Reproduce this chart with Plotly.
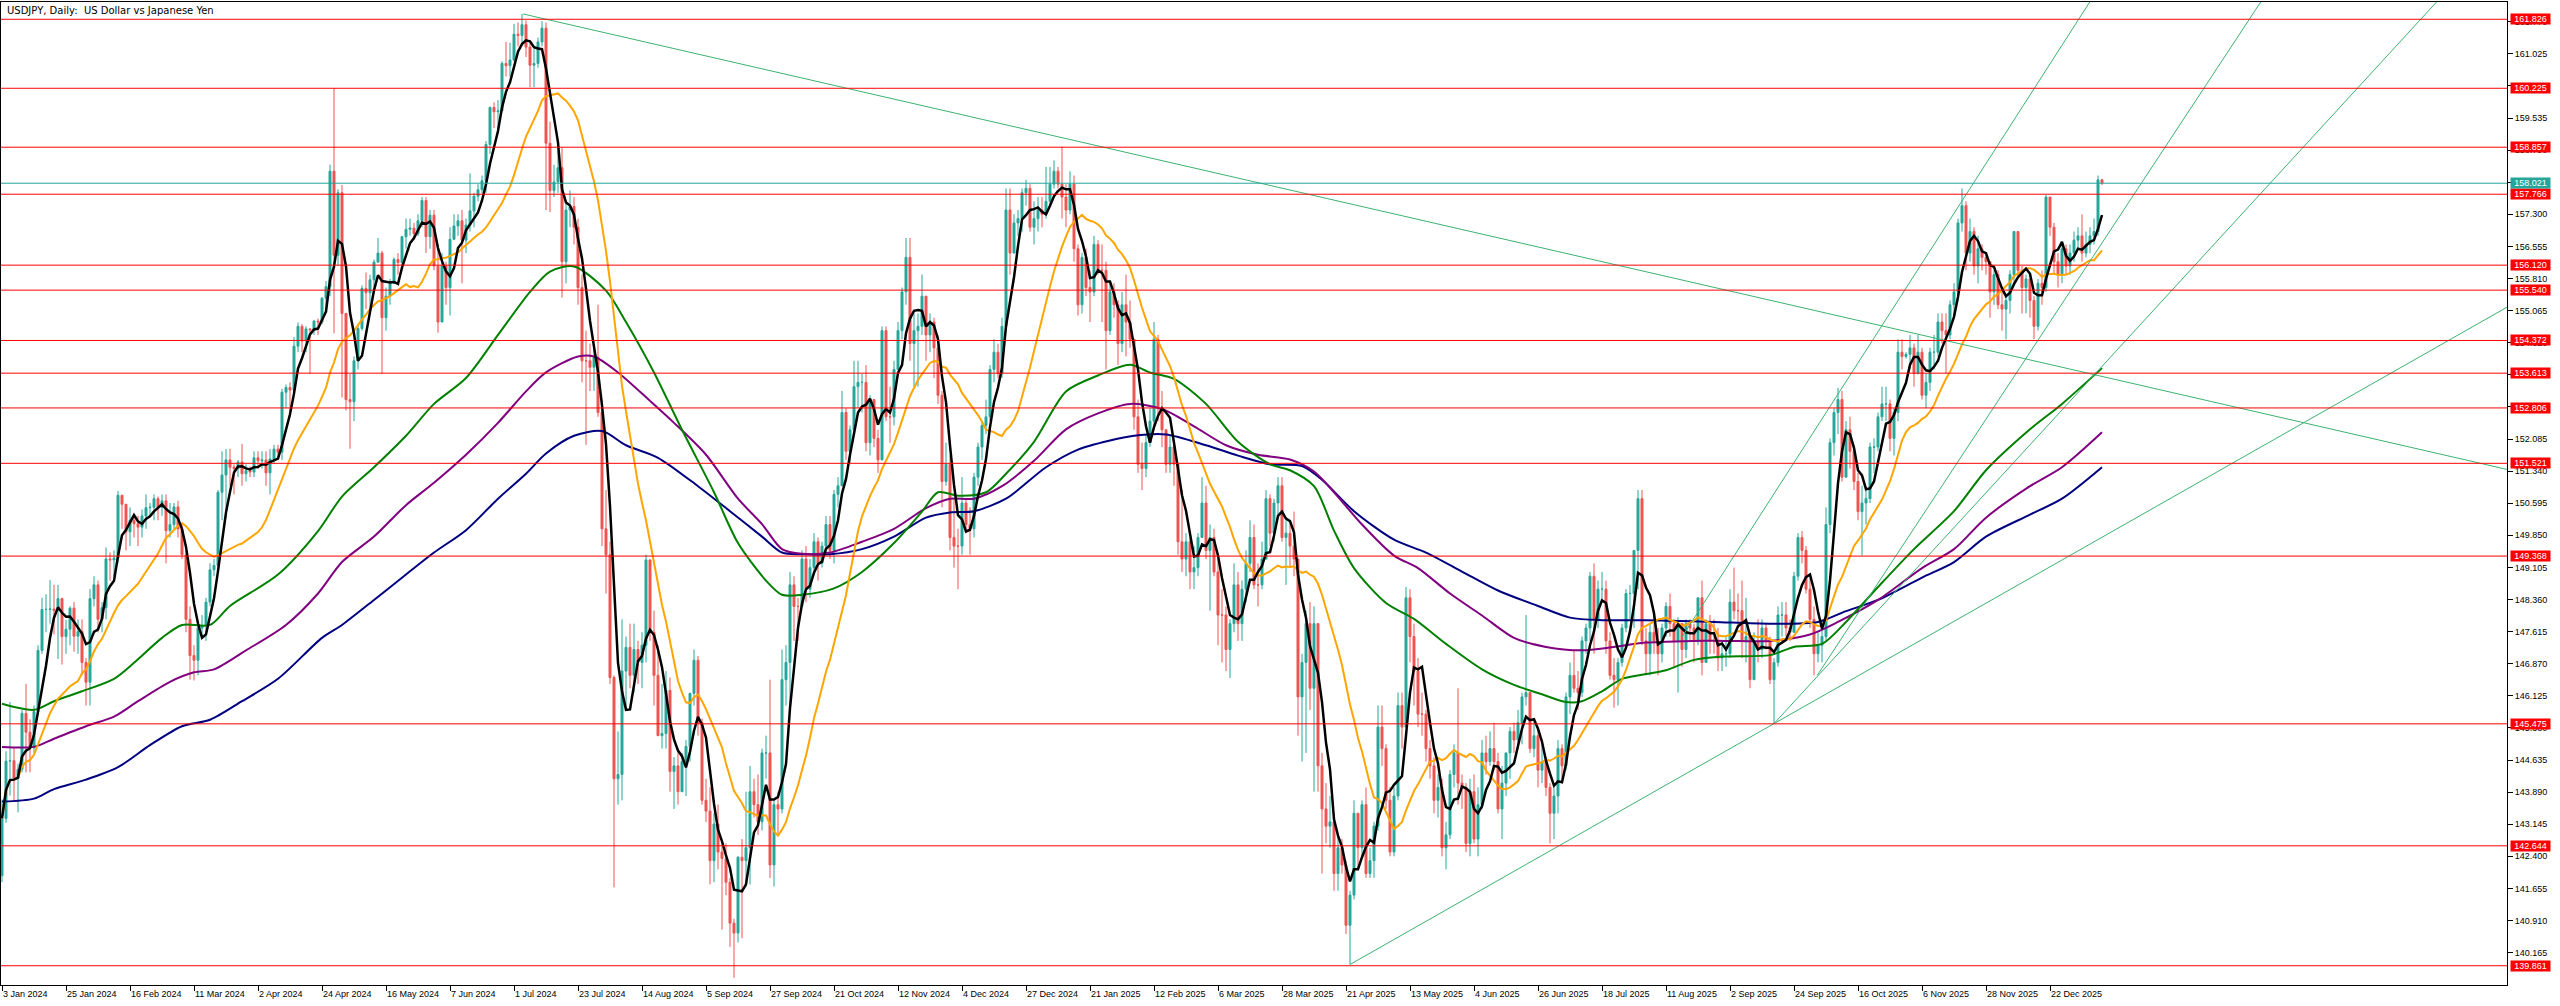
import numpy as np
import pandas as pd
import plotly.graph_objects as go

# ---------------- DATA ----------------
title_text = "USDJPY, Daily:  US Dollar vs Japanese Yen"

tick_labels = ["3 Jan 2024", "25 Jan 2024", "16 Feb 2024", "11 Mar 2024", "2 Apr 2024", "24 Apr 2024",
               "16 May 2024", "7 Jun 2024", "1 Jul 2024", "23 Jul 2024", "14 Aug 2024", "5 Sep 2024",
               "27 Sep 2024", "21 Oct 2024", "12 Nov 2024", "4 Dec 2024", "27 Dec 2024", "21 Jan 2025",
               "12 Feb 2025", "6 Mar 2025", "28 Mar 2025", "21 Apr 2025", "13 May 2025", "4 Jun 2025",
               "26 Jun 2025", "18 Jul 2025", "11 Aug 2025", "2 Sep 2025", "24 Sep 2025", "16 Oct 2025",
               "6 Nov 2025", "28 Nov 2025", "22 Dec 2025"]
bars_per_label = 16

first_open = 141.95

closes_2024 = [
    143.28, 144.61, 144.62,
    144.21, 144.42, 145.72, 145.28, 144.92,
    145.76, 147.18, 148.13, 148.13, 148.14,
    148.11, 148.38, 147.50, 147.67, 148.16,
    147.51, 147.62, 146.90, 146.44, 148.38,
    148.70, 147.90, 148.17, 149.30, 149.28,
    149.32, 150.78, 150.57, 149.93, 150.20,
    150.12, 150.04, 150.30, 150.49, 150.50,
    150.70, 150.50, 150.65, 149.96, 150.10,
    150.51, 150.00, 149.40, 147.90, 147.06,
    146.95, 147.70, 147.75, 148.30, 149.05,
    149.15, 150.85, 151.25, 151.60, 151.43,
    151.40, 151.55, 151.28, 151.35, 151.32,
    151.65, 151.58, 151.60, 151.30, 151.62,
    151.85, 151.78, 153.17, 153.28, 153.22,
    154.24, 154.70, 154.36, 154.64, 154.62,
    154.82, 154.80, 155.35, 155.62, 158.30,
    156.35, 157.80, 155.00, 153.00, 152.95,
    153.90, 154.65, 155.58, 155.48, 155.78,
    156.19, 156.40, 154.90, 155.40, 155.70,
    156.25, 156.18, 156.78, 156.95, 156.98,
    156.85, 157.15, 157.62, 156.78, 157.28,
    156.10, 154.80, 156.10, 155.60, 156.72,
    157.03, 157.15, 156.70, 157.05, 157.38,
    157.72, 157.87, 158.08, 158.92, 159.78,
    159.68, 159.70, 160.80, 160.75, 160.88,
    161.48, 161.45, 161.70, 161.18, 160.76,
    160.80, 161.30, 161.62, 158.95, 157.85,
    158.05, 158.38, 156.20, 157.40, 157.48,
    157.00, 155.60, 153.90, 153.90, 153.75,
    153.98, 152.70, 150.00, 149.40, 146.55,
    144.20, 144.30, 146.70, 147.25, 146.60,
    147.20, 146.90, 147.30, 149.28, 147.60,
    146.60, 145.20, 145.25, 146.25, 144.37,
    144.50, 143.90, 144.60, 144.95, 146.18,
    146.95, 145.50, 143.70, 143.45, 142.30,
    143.15, 142.50, 142.35, 141.80, 140.85,
    140.62, 142.38, 142.30, 142.60, 143.90,
    143.60, 143.20, 144.80, 144.80, 142.20,
    143.60, 143.50, 146.50, 146.90, 148.70,
    148.20, 148.20, 149.30, 148.60, 149.10,
    149.70, 149.20, 149.60, 150.10, 149.50,
    150.80, 151.00, 152.70, 151.80, 152.30,
    153.30, 153.40, 153.40, 152.00, 153.00,
    152.10, 151.60, 154.60, 152.60, 152.60,
    153.70, 154.60, 155.50, 156.30, 154.30,
    154.60, 154.70, 155.40, 154.50, 154.80,
    154.20, 153.10, 151.10, 151.50, 149.80,
    149.60, 149.60, 150.60, 150.10, 150.00,
    151.20, 151.90, 152.40, 152.60, 153.70,
    154.10, 153.60, 154.70, 157.40, 156.40,
    157.10, 157.20, 157.80, 157.90,
    157.00, 157.20]

highs_2024 = [
    143.72, 144.84, 145.98,
    144.91, 144.55, 145.80, 146.40, 145.58,
    145.90, 147.30, 148.40, 148.48, 148.81,
    148.70, 148.70, 148.40, 147.89, 148.20,
    148.30, 147.90, 147.90, 147.00, 148.60,
    148.90, 148.80, 148.30, 149.57, 149.45,
    149.50, 150.88, 150.70, 150.55, 150.50,
    150.30, 150.30, 150.45, 150.80, 150.60,
    150.80, 150.75, 150.80, 150.80, 150.60,
    150.60, 150.65, 150.10, 149.50, 148.20,
    147.30, 147.80, 148.00, 148.40, 149.20,
    149.30, 150.90, 151.80, 151.85, 151.86,
    151.50, 151.60, 151.97, 151.50, 151.45,
    151.80, 151.80, 151.80, 151.80, 151.85,
    151.95, 151.95, 153.25, 153.35, 153.40,
    154.45, 154.79, 154.75, 154.70, 154.65,
    154.85, 154.88, 155.38, 155.75, 158.45,
    160.22, 157.88, 157.98, 155.00, 153.60,
    154.00, 154.75, 155.65, 155.95, 155.90,
    156.25, 156.75, 156.45, 155.60, 155.80,
    156.30, 156.40, 156.80, 157.20, 157.20,
    157.10, 157.30, 157.70, 157.70, 157.40,
    157.40, 156.50, 156.40, 156.20, 157.00,
    157.30, 157.30, 157.40, 157.20, 158.25,
    157.80, 158.00, 158.20, 159.00, 159.80,
    159.90, 159.95, 160.85, 161.30, 161.28,
    161.72, 161.75, 161.95, 161.80, 161.30,
    161.15, 161.40, 161.78, 161.75, 159.45,
    158.45, 158.85, 158.85, 157.60, 157.85,
    157.70, 157.20, 155.90, 154.60, 154.30,
    154.20, 155.20, 153.00, 150.90, 149.70,
    146.60, 145.30, 147.90, 147.50, 147.80,
    147.80, 147.40, 147.60, 149.40, 149.20,
    148.10, 147.30, 146.40, 146.70, 146.55,
    144.70, 144.90, 144.80, 145.10, 146.20,
    147.20, 147.05, 145.60, 144.20, 144.00,
    143.40, 143.60, 142.80, 142.70, 141.90,
    140.95, 142.40, 142.80, 143.90, 144.50,
    144.20, 144.30, 144.90, 145.20, 146.50,
    143.70, 143.90, 147.20, 147.30, 149.00,
    148.90, 148.40, 149.50, 149.60, 149.30,
    149.90, 149.80, 149.70, 150.30, 150.30,
    150.90, 151.20, 153.20, 152.80, 152.40,
    153.90, 153.90, 153.60, 153.80, 153.10,
    152.70, 152.30, 154.70, 154.70, 153.30,
    153.90, 154.80, 155.60, 156.75, 156.75,
    155.00, 155.00, 155.90, 155.40, 155.00,
    154.90, 154.50, 153.20, 152.00, 151.70,
    150.70, 150.00, 151.20, 150.70, 150.50,
    151.30, 152.00, 152.50, 153.00, 153.80,
    154.40, 154.30, 154.90, 157.90, 157.90,
    157.30, 157.40, 157.90, 158.10,
    158.00, 157.60]

lows_2024 = [
    141.80, 143.18, 143.81,
    143.67, 143.42, 144.35, 144.35, 144.35,
    144.80, 145.70, 147.10, 147.60, 147.80,
    147.55, 146.98, 146.85, 147.10, 147.30,
    147.15, 147.10, 146.60, 145.90, 145.90,
    148.20, 147.60, 147.60, 147.90, 148.80,
    148.90, 149.20, 150.00, 149.50, 149.60,
    149.80, 149.60, 149.80, 150.00, 150.30,
    150.20, 150.20, 150.30, 149.20, 149.80,
    150.00, 149.80, 149.30, 147.60, 146.50,
    146.48, 146.60, 147.50, 147.40, 148.20,
    148.90, 149.10, 150.20, 150.25, 151.00,
    150.80, 151.20, 151.00, 151.10, 151.20,
    151.20, 151.40, 151.40, 151.00, 150.80,
    151.50, 151.60, 151.60, 152.80, 152.60,
    153.10, 154.10, 154.10, 154.10, 153.60,
    154.50, 154.50, 154.75, 155.10, 155.40,
    154.54, 156.10, 153.05, 152.75, 151.86,
    152.50, 153.70, 154.60, 155.10, 155.10,
    155.60, 156.20, 153.60, 154.60, 155.20,
    155.70, 155.90, 156.10, 156.50, 156.80,
    156.70, 156.80, 157.00, 156.40, 156.50,
    156.00, 154.55, 154.80, 155.20, 154.95,
    156.70, 156.80, 155.70, 156.40, 156.90,
    157.00, 157.60, 157.80, 157.80, 158.70,
    159.30, 159.30, 159.70, 160.50, 160.50,
    160.85, 161.20, 161.20, 160.95, 160.25,
    160.25, 160.70, 161.20, 157.40, 157.35,
    157.70, 157.80, 155.37, 155.70, 157.00,
    156.60, 155.20, 153.40, 151.95, 153.20,
    153.20, 152.60, 149.60, 148.50, 146.40,
    141.68, 143.60, 143.70, 145.80, 146.30,
    146.20, 146.40, 146.30, 146.90, 147.40,
    145.90, 145.20, 144.90, 144.90, 143.90,
    143.50, 143.60, 143.90, 143.80, 144.60,
    145.90, 145.20, 143.60, 143.20, 141.75,
    141.80, 142.10, 140.70, 141.50, 140.30,
    139.58, 140.40, 140.50, 141.70, 141.75,
    143.30, 142.90, 143.00, 144.20, 141.90,
    141.70, 142.90, 143.40, 145.90, 145.90,
    147.40, 147.40, 148.20, 148.30, 148.40,
    149.00, 148.80, 149.10, 149.40, 149.30,
    149.20, 150.50, 151.00, 151.60, 151.50,
    152.40, 152.80, 152.70, 151.80, 151.70,
    151.90, 151.30, 151.60, 152.50, 152.00,
    152.40, 153.70, 154.40, 155.20, 153.90,
    153.30, 153.30, 154.50, 153.90, 154.10,
    153.50, 152.90, 150.50, 151.00, 149.50,
    149.10, 148.60, 149.40, 149.90, 149.40,
    149.80, 151.00, 151.60, 152.20, 152.50,
    153.40, 153.50, 153.50, 154.70, 155.90,
    156.40, 156.80, 156.90, 157.50,
    156.90, 156.60]

closes_2025 = [
    157.40, 157.30,
    157.60, 158.00, 158.30, 158.00, 157.70,
    157.40, 158.00, 156.50, 155.20, 156.30,
    155.60, 155.50, 156.60, 156.00, 156.00,
    154.60, 155.50, 155.20, 154.30, 155.20,
    154.80, 154.40, 152.60, 151.50, 151.40,
    152.00, 152.50, 154.40, 152.80, 152.30,
    151.50, 151.90, 151.50, 149.70, 149.30,
    149.70, 149.00, 149.10, 149.80, 150.60,
    149.50, 149.80, 149.00, 148.00, 148.00,
    147.20, 147.80, 148.70, 147.80, 148.60,
    149.20, 149.80, 148.70, 148.70, 149.30,
    150.70, 149.90, 150.60, 151.00, 149.80,
    149.90, 149.60, 149.30, 146.10, 146.90,
    147.80, 146.30, 147.80, 144.50, 143.50,
    143.10, 143.20, 142.00, 142.60, 142.20,
    140.80, 141.50, 143.40, 142.60, 143.60,
    142.00, 142.30, 143.10, 145.40, 144.90,
    143.70, 142.50, 143.80, 145.90, 145.40,
    148.40, 147.50, 146.70, 145.70, 145.70,
    144.90, 144.50, 143.70, 144.00, 142.60,
    142.90, 144.30, 144.80, 144.10, 144.00,
    142.70, 143.90, 142.80, 143.60, 144.80,
    144.60, 144.90, 144.60, 143.50, 144.10,
    144.80, 145.30, 145.10, 145.50, 146.10,
    146.20, 144.90, 145.20, 144.40, 144.60,
    144.00, 143.40, 143.80, 144.90, 144.50,
    146.10, 146.60, 146.30, 146.20, 147.40,
    147.70, 148.90, 147.90, 148.60, 148.60,
    147.40, 146.60, 146.50, 146.90, 147.70,
    148.50, 148.50, 149.50, 150.70, 147.40,
    147.10, 147.60, 147.40, 147.10, 147.70,
    148.20, 147.80, 147.40, 147.80, 147.20,
    147.80, 147.70, 147.40, 148.40, 146.90,
    147.80, 147.40, 147.40, 147.00, 147.10,
    147.10, 148.30, 148.10, 148.10, 147.40,
    147.50, 146.50, 147.40, 147.20, 147.70,
    147.40, 146.50, 146.90, 148.00, 148.00,
    147.70, 147.60, 148.90, 149.80, 149.50,
    148.60, 147.90, 147.10, 147.30, 147.50,
    150.10, 152.00, 152.70, 153.00, 151.20,
    152.30, 151.80, 151.10, 150.40, 150.60,
    150.70, 151.90, 151.90, 152.60, 152.90,
    152.90, 152.10, 152.70, 154.10, 154.00, 154.05,
    154.20, 153.60, 154.10, 153.10, 153.40,
    154.10, 154.10, 154.80, 154.60, 154.50,
    155.20, 155.50, 157.10, 157.50, 156.40,
    156.90, 156.10, 156.50, 156.30, 156.20,
    155.50, 155.90, 155.20, 155.10, 155.30,
    155.90, 156.90, 156.00, 155.60, 155.80,
    155.30, 154.70, 155.70, 155.60, 157.70,
    157.00, 156.20, 155.90, 156.50,
    156.10, 156.40, 156.70, 156.80,
    156.40, 156.60, 156.80, 156.90, 158.10,
    158.02]

highs_2025 = [
    157.70, 157.70,
    158.40, 158.40, 158.55, 158.40, 158.87,
    158.00, 158.30, 158.20, 156.60, 156.40,
    156.50, 156.00, 156.80, 156.70, 156.60,
    156.20, 155.70, 155.70, 155.30, 155.50,
    155.90, 155.30, 154.40, 153.00, 152.00,
    152.20, 152.80, 154.80, 154.50, 153.20,
    152.00, 152.20, 152.00, 151.50, 150.90,
    149.90, 149.80, 149.60, 149.90, 151.20,
    151.00, 150.10, 150.00, 149.30, 148.60,
    148.20, 147.90, 149.20, 149.00, 148.80,
    149.50, 150.20, 150.10, 149.20, 149.70,
    150.90, 150.80, 150.70, 151.20, 151.20,
    150.20, 150.20, 150.40, 149.30, 147.10,
    148.10, 148.30, 148.20, 147.80, 144.80,
    144.10, 143.80, 143.40, 142.90, 142.80,
    142.30, 141.60, 143.70, 143.40, 143.70,
    144.00, 142.60, 143.20, 145.90, 145.90,
    145.00, 144.00, 144.00, 146.20, 146.20,
    148.65, 148.60, 147.80, 147.00, 146.20,
    145.80, 145.10, 144.70, 144.30, 144.20,
    143.20, 144.40, 145.00, 146.30, 144.30,
    144.10, 144.20, 144.30, 144.00, 145.10,
    145.20, 145.30, 145.50, 144.80, 144.50,
    144.80, 145.40, 145.50, 145.80, 146.20,
    148.00, 146.20, 145.60, 145.40, 145.00,
    144.70, 144.10, 144.00, 145.10, 145.00,
    146.20, 146.90, 147.20, 146.70, 147.50,
    147.80, 149.00, 149.20, 148.80, 149.00,
    148.80, 147.60, 147.00, 147.00, 147.80,
    148.60, 148.70, 149.50, 150.90, 150.90,
    147.70, 147.80, 148.10, 147.70, 147.80,
    148.30, 148.50, 147.90, 147.95, 147.80,
    147.90, 147.90, 147.80, 148.40, 148.80,
    147.90, 148.00, 147.90, 147.70, 147.40,
    147.50, 148.60, 149.10, 148.50, 148.80,
    148.40, 147.60, 147.60, 147.90, 147.90,
    147.80, 147.50, 147.00, 148.20, 148.30,
    148.30, 147.90, 149.00, 149.90, 149.95,
    149.60, 148.90, 148.20, 147.60, 147.90,
    150.50, 152.10, 152.80, 153.27, 153.20,
    152.50, 152.60, 151.90, 151.30, 151.00,
    150.90, 152.00, 152.10, 152.70, 153.30,
    153.30, 153.00, 152.80, 154.40, 154.40, 154.10,
    154.50, 154.30, 154.50, 154.20, 153.60,
    154.20, 154.50, 155.00, 155.00, 155.00,
    155.30, 155.70, 157.20, 157.90, 157.60,
    157.20, 157.00, 156.80, 156.60, 156.40,
    156.20, 156.00, 156.00, 155.50, 155.40,
    156.00, 156.90, 156.90, 156.10, 155.90,
    155.90, 155.40, 155.80, 156.00, 157.75,
    157.70, 157.10, 156.40, 156.60,
    156.60, 156.60, 156.90, 157.00,
    157.30, 156.90, 157.00, 157.20, 158.20,
    158.12]

lows_2025 = [
    156.90, 157.00,
    157.20, 157.50, 157.90, 157.90, 157.20,
    157.00, 157.30, 156.20, 154.95, 155.00,
    155.40, 154.80, 155.40, 155.90, 154.80,
    153.70, 154.50, 154.90, 153.80, 154.10,
    154.00, 154.20, 152.30, 151.30, 150.90,
    151.20, 151.90, 152.40, 152.50, 151.90,
    151.30, 151.30, 151.00, 149.40, 149.00,
    148.90, 148.60, 148.60, 148.90, 149.80,
    149.30, 148.10, 148.90, 147.30, 146.90,
    146.70, 146.54, 147.60, 147.40, 147.40,
    148.30, 149.00, 148.60, 148.20, 148.60,
    149.30, 149.60, 149.70, 150.30, 149.70,
    148.70, 149.10, 148.90, 145.20, 144.60,
    144.80, 145.80, 143.90, 143.90, 142.00,
    142.70, 142.60, 141.60, 141.60, 142.00,
    140.60, 139.89, 141.40, 142.10, 142.40,
    141.90, 141.90, 141.90, 143.00, 144.50,
    143.50, 142.40, 142.40, 143.70, 144.90,
    145.60, 146.90, 145.90, 145.40, 145.20,
    144.60, 144.20, 143.40, 143.30, 142.40,
    142.10, 142.80, 144.00, 143.60, 143.50,
    142.50, 142.40, 142.70, 142.40, 143.50,
    144.30, 144.50, 144.40, 143.40, 142.80,
    143.80, 144.20, 144.80, 144.90, 145.00,
    145.90, 144.80, 144.70, 144.00, 144.10,
    143.80, 142.70, 142.80, 143.40, 144.20,
    144.40, 145.70, 146.20, 145.80, 146.10,
    147.10, 147.40, 147.10, 147.70, 148.30,
    147.10, 146.50, 145.85, 145.90, 146.80,
    147.60, 147.90, 147.70, 148.60, 147.30,
    146.60, 146.60, 147.10, 146.60, 146.90,
    147.50, 147.50, 146.80, 146.20, 146.80,
    147.00, 147.40, 146.90, 147.30, 146.60,
    146.90, 147.10, 147.10, 146.70, 146.70,
    146.80, 147.00, 147.90, 147.70, 147.00,
    146.90, 146.30, 146.50, 146.90, 147.00,
    147.20, 146.40, 145.48, 146.80, 147.50,
    147.50, 147.40, 147.60, 148.80, 149.20,
    148.50, 147.70, 146.60, 146.90, 146.90,
    147.40, 149.90, 151.70, 152.20, 151.10,
    151.20, 151.40, 150.90, 150.20, 149.38,
    150.10, 150.60, 151.30, 151.80, 152.50,
    152.50, 151.80, 151.70, 152.50, 153.70, 153.95,
    153.70, 153.30, 153.60, 153.00, 152.80,
    153.20, 153.70, 154.00, 154.30, 153.60,
    154.40, 154.90, 155.30, 156.90, 156.00,
    156.20, 155.90, 155.70, 156.00, 155.90,
    154.90, 155.20, 155.10, 154.60, 154.40,
    155.00, 155.70, 155.80, 155.00, 155.00,
    154.90, 154.40, 154.60, 155.20, 155.50,
    156.80, 155.90, 155.60, 155.70,
    155.90, 155.90, 156.20, 156.50,
    156.20, 156.30, 156.40, 156.60, 156.80,
    157.98]

fast_ma_period = 5
mid_ma_period = 20

# slow moving averages: (bar index, value)
green_ma_x = [0, 8, 13, 20, 28, 33, 40, 45, 52, 57, 69, 79, 85, 93, 101, 108, 116, 124, 132, 137, 143,
              151, 156, 163, 170, 178, 184, 191, 195, 200, 208, 215, 223, 230, 234, 239, 246, 251, 258,
              266, 274, 282, 287, 293, 301, 309, 317, 322, 328, 333, 338, 346, 353, 361, 370, 378, 385,
              391, 395, 400, 405, 411, 416, 423, 431, 442, 448, 455, 461, 469, 478, 488, 496, 507, 515, 525]
green_ma_y = [145.94, 145.80, 146.00, 146.23, 146.52, 146.89, 147.47, 147.77, 147.77, 148.21, 148.94,
              149.95, 150.75, 151.43, 152.16, 152.90, 153.50, 154.50, 155.50, 155.97, 156.09, 155.53,
              154.80, 153.63, 152.30, 150.85, 149.67, 148.80, 148.47, 148.47, 148.62, 149.00, 149.67,
              150.40, 150.85, 150.77, 150.85, 151.28, 152.02, 153.19, 153.56, 153.81, 153.63, 153.48,
              152.90, 152.02, 151.50, 151.36, 150.99, 149.96, 149.09, 148.28, 147.91, 147.33, 146.74,
              146.38, 146.16, 145.98, 146.00, 146.23, 146.52, 146.63, 146.72, 146.96, 147.04, 147.07,
              147.26, 147.33, 147.84, 148.65, 149.53, 150.41, 151.36, 152.31, 152.90, 153.73]

purple_ma_x = [0, 8, 13, 21, 28, 34, 42, 48, 53, 61, 71, 79, 85, 93, 101, 108, 116, 124, 131, 136, 144,
               148, 154, 162, 168, 176, 184, 190, 195, 200, 207, 215, 223, 231, 237, 243, 250, 258, 266,
               274, 282, 290, 298, 306, 314, 322, 328, 333, 340, 348, 354, 362, 370, 378, 386, 395, 403,
               411, 416, 423, 431, 442, 452, 459, 469, 480, 488, 496, 507, 515, 525]
purple_ma_y = [144.94, 144.94, 145.13, 145.42, 145.64, 146.00, 146.45, 146.67, 146.74, 147.18, 147.77,
               148.50, 149.23, 149.82, 150.55, 151.07, 151.72, 152.46, 153.19, 153.63, 154.00, 154.00,
               153.63, 152.97, 152.46, 151.72, 150.70, 150.11, 149.53, 149.42, 149.45, 149.70, 150.00,
               150.48, 150.70, 150.70, 150.99, 151.58, 152.31, 152.68, 152.90, 152.78, 152.38, 151.94,
               151.72, 151.61, 151.33, 150.85, 150.10, 149.38, 149.09, 148.50, 147.99, 147.47, 147.26,
               147.18, 147.26, 147.36, 147.38, 147.40, 147.40, 147.40, 147.55, 147.84, 148.35, 149.09,
               149.53, 150.26, 150.99, 151.43, 152.24]

navy_ma_x = [0, 8, 13, 21, 29, 37, 45, 52, 60, 69, 80, 85, 93, 101, 108, 116, 124, 131, 136, 143, 150,
             156, 164, 174, 182, 190, 195, 200, 207, 215, 223, 231, 237, 243, 251, 261, 269, 277, 283,
             291, 301, 309, 317, 325, 330, 338, 348, 356, 365, 374, 384, 392, 400, 411, 416, 428, 442,
             454, 461, 469, 480, 488, 496, 507, 515, 525]
navy_ma_y = [143.67, 143.74, 143.96, 144.18, 144.47, 144.98, 145.42, 145.57, 146.00, 146.52, 147.47,
             147.77, 148.35, 148.94, 149.45, 149.97, 150.70, 151.28, 151.75, 152.16, 152.27, 151.94,
             151.65, 150.99, 150.41, 149.82, 149.45, 149.41, 149.41, 149.53, 149.82, 150.26, 150.38,
             150.41, 150.70, 151.43, 151.84, 152.05, 152.16, 152.19, 151.94, 151.70, 151.50, 151.46,
             151.14, 150.41, 149.75, 149.45, 149.01, 148.57, 148.21, 147.94, 147.88, 147.88, 147.87,
             147.84, 147.80, 147.84, 148.09, 148.35, 148.87, 149.23, 149.82, 150.33, 150.70, 151.43]

# horizontal levels
level_prices = [161.826, 160.225, 158.857, 157.766, 156.120, 155.540, 154.372, 153.613,
                152.806, 151.521, 149.368, 145.475, 142.644, 139.861]
bid_price = 158.021

# price axis ticks
y_tick_values = [161.770, 161.025, 160.280, 159.535, 158.790, 158.045, 157.300, 156.555, 155.810,
                 155.065, 154.320, 153.575, 152.830, 152.085, 151.340, 150.595, 149.850, 149.105,
                 148.360, 147.615, 146.870, 146.125, 145.380, 144.635, 143.890, 143.145, 142.400,
                 141.655, 140.910, 140.165]

# trend lines: two anchor points each (bar index, price); rays extend to the right
trend_down = ([130.25, 500.0], [161.95, 154.07])
trend_up_long = ([337.0, 443.0], [139.89, 145.48])
fan_line_a = ([443.0, 542.5], [145.48, 155.54])
channel_base = ([453.8, 509.0], [146.60, 154.38])
channel_top = ([420.0, 490.0], [147.49, 157.61])

y_range = [139.414, 162.227]
x_range = [-0.25, 626.25]

# ---------------- BUILD ----------------
UP = "#26A69A"
DN = "#EF5350"

closes = np.array(closes_2024 + closes_2025, dtype=float)
highs = np.array(highs_2024 + highs_2025, dtype=float)
lows = np.array(lows_2024 + lows_2025, dtype=float)
n = len(closes)
opens = np.r_[first_open, closes[:-1]]
highs = np.maximum.reduce([highs, opens, closes])
lows = np.minimum.reduce([lows, opens, closes])
bars = np.arange(n)

s = pd.Series(closes)
fast_ma = s.rolling(fast_ma_period, min_periods=1).mean()
mid_ma = s.rolling(mid_ma_period, min_periods=1).mean()

fig = go.Figure()
fig.add_trace(go.Candlestick(
    x=bars, open=opens, high=highs, low=lows, close=closes,
    increasing=dict(line=dict(color=UP, width=1), fillcolor=UP),
    decreasing=dict(line=dict(color=DN, width=1), fillcolor=DN),
    whiskerwidth=0, hoverinfo="skip", showlegend=False))

for xs, ys, col in [(navy_ma_x, navy_ma_y, "#000080"),
                    (purple_ma_x, purple_ma_y, "#800080"),
                    (green_ma_x, green_ma_y, "#008000")]:
    fig.add_trace(go.Scatter(x=xs, y=ys, mode="lines",
                             line=dict(color=col, width=2, shape="spline", smoothing=0.8),
                             hoverinfo="skip", showlegend=False))

fig.add_trace(go.Scatter(x=bars, y=mid_ma, mode="lines", line=dict(color="#FFA500", width=2),
                         hoverinfo="skip", showlegend=False))
fig.add_trace(go.Scatter(x=bars, y=fast_ma, mode="lines", line=dict(color="#000000", width=2.5),
                         hoverinfo="skip", showlegend=False))


def ray(anchor, x_end):
    (xa, xb), (ya, yb) = anchor
    slope = (yb - ya) / (xb - xa)
    return [xa, x_end], [ya, ya + slope * (x_end - xa)]


for anchor in [trend_down, trend_up_long, fan_line_a, channel_base, channel_top]:
    rx, ry = ray(anchor, x_range[1] + 50)
    fig.add_trace(go.Scatter(x=rx, y=ry, mode="lines", line=dict(color="#3CB371", width=1),
                             hoverinfo="skip", showlegend=False))

shapes = []
for p in level_prices:
    shapes.append(dict(type="line", xref="paper", x0=0, x1=1, yref="y", y0=p, y1=p,
                       line=dict(color="#FF0000", width=1), layer="above"))
shapes.append(dict(type="line", xref="paper", x0=0, x1=1, yref="y", y0=bid_price, y1=bid_price,
                   line=dict(color=UP, width=1), layer="above"))

annotations = []
for p in level_prices:
    annotations.append(dict(text=f"{p:.3f}", xref="paper", x=1, xanchor="left", xshift=3,
                            yref="y", y=p, yanchor="middle", showarrow=False,
                            bgcolor="#FF0000", width=39, height=10, borderpad=0,
                            font=dict(family="Liberation Sans", size=9, color="white")))
annotations.append(dict(text=f"{bid_price:.3f}", xref="paper", x=1, xanchor="left", xshift=3,
                        yref="y", y=bid_price, yanchor="middle", showarrow=False,
                        bgcolor=UP, width=39, height=10, borderpad=0,
                        font=dict(family="Liberation Sans", size=9, color="white")))
annotations.append(dict(text=title_text, xref="paper", x=0, xanchor="left", xshift=4,
                        yref="paper", y=1, yanchor="top", yshift=-1, showarrow=False,
                        font=dict(family="DejaVu Sans", size=10, color="black")))

fig.update_layout(
    template="none",
    width=2560, height=1006,
    margin=dict(l=1, r=53, t=2, b=21, pad=0),
    paper_bgcolor="white", plot_bgcolor="white",
    font=dict(family="Liberation Sans", size=9, color="black"),
    showlegend=False, hovermode=False,
    shapes=shapes, annotations=annotations,
    xaxis=dict(range=x_range, tickmode="array",
               tickvals=[i * bars_per_label for i in range(len(tick_labels))],
               ticktext=tick_labels, ticks="outside", ticklen=5, tickwidth=1, tickcolor="black",
               ticklabelposition="outside right",
               showline=True, linecolor="black", linewidth=1, mirror=True,
               showgrid=False, zeroline=False, automargin=False,
               rangeslider=dict(visible=False), fixedrange=True,
               tickfont=dict(family="Liberation Sans", size=9, color="black")),
    yaxis=dict(range=y_range, side="right", tickmode="array", tickvals=y_tick_values,
               ticktext=[f"{v:.3f}" for v in y_tick_values], ticks="outside", ticklen=5,
               tickwidth=1, tickcolor="black",
               showline=True, linecolor="black", linewidth=1, mirror=True,
               showgrid=False, zeroline=False, automargin=False, fixedrange=True,
               tickfont=dict(family="Liberation Sans", size=9, color="black")),
)

fig.write_html("out.html", config={"displayModeBar": False},
               post_script="document.body.style.margin='0px';")
